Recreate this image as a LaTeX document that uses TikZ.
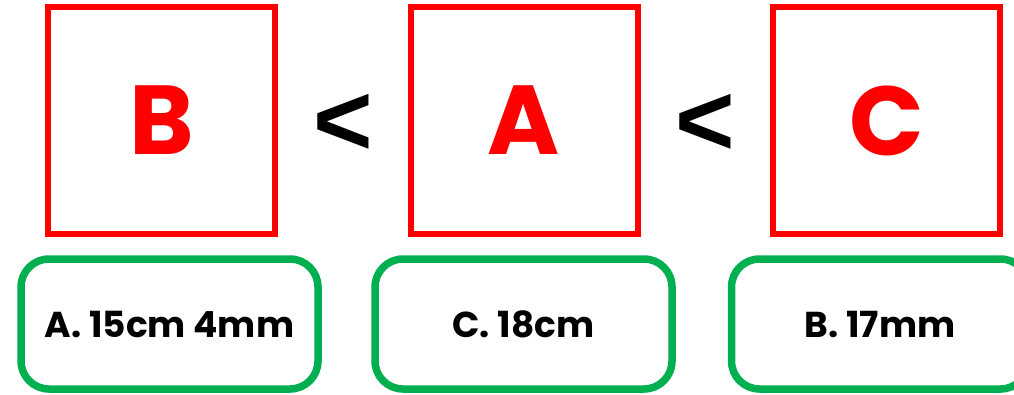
\documentclass[tikz,border=0pt]{standalone}
\usepackage{fontspec}
\setmainfont{Poppins}[BoldFont={* Bold}]
\newfontfamily\ltfont{Liberation Sans}[BoldFont={* Bold}]
\definecolor{boxred}{HTML}{FF0000}
\definecolor{boxgreen}{HTML}{00B050}
\begin{document}
\begin{tikzpicture}[x=1pt,y=-1pt,
  redbox/.style={draw=boxred,line width=6pt,minimum width=227pt,minimum height=227pt,inner sep=0pt,
    text=boxred,font=\fontsize{98}{98}\selectfont\bfseries},
  greenbox/.style={draw=boxgreen,line width=7.5pt,rounded corners=28pt,minimum width=297pt,minimum height=130pt,inner sep=0pt,
    font=\fontsize{36}{36}\selectfont\bfseries},
  lessthan/.style={inner sep=0pt,font=\ltfont\fontsize{102}{102}\selectfont\bfseries}]
\begin{scope}
\clip (0,0) rectangle (1014,394);
\useasboundingbox (0,0) rectangle (1014,394);
\node[redbox] (b1) at (161.5,120.5) {B};
\node[redbox] (b2) at (524,120.5) {A};
\node[redbox] (b3) at (886.5,120.5) {C};
\node[lessthan,anchor=center] (lt1) at (343,125) {<};
\node[lessthan,anchor=center] (lt2) at (705.5,125) {<};
\node[greenbox] (g1) at (169.5,324) {A. 15cm 4mm};
\node[greenbox] (g2) at (523.5,324) {C. 18cm};
\node[greenbox] (g3) at (880,324) {B. 17mm};
\end{scope}
\end{tikzpicture}
\end{document}
